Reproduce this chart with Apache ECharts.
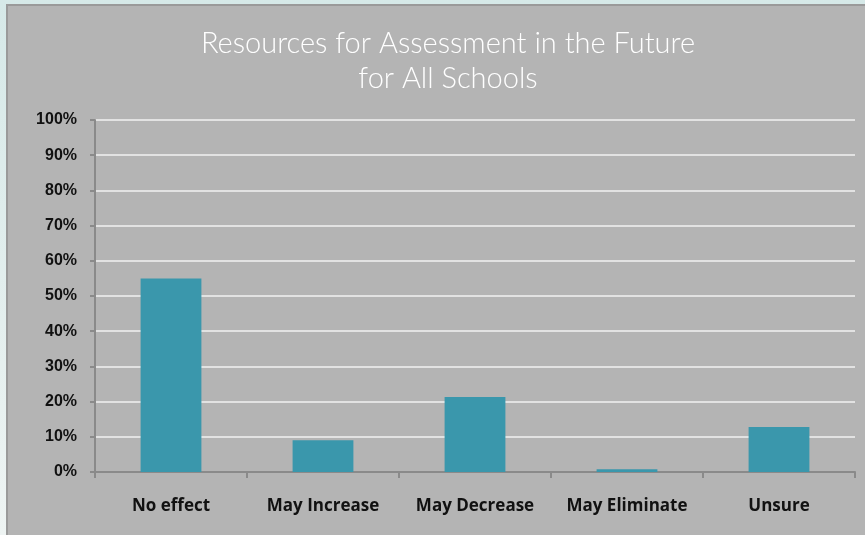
<!DOCTYPE html>
<html>
<head>
<meta charset="utf-8">
<script src="https://cdn.jsdelivr.net/npm/echarts@6/dist/echarts.min.js"></script>
<style>
html,body{margin:0;padding:0;width:865px;height:535px;overflow:hidden;}
body{background:linear-gradient(180deg,#d6e9e8 0%,#e4efee 60%,#eef4f3 100%);}
#panel{position:absolute;left:6px;top:4px;width:861px;height:533px;background:#b4b4b4;border-left:2px solid #9a9a9a;border-top:2px solid #9a9a9a;box-sizing:border-box;}
#chart{position:absolute;left:0;top:0;width:865px;height:535px;}
</style>
</head>
<body>
<div id="panel"></div>
<div id="chart"></div>
<script>
const categories = ['No effect', 'May Increase', 'May Decrease', 'May Eliminate', 'Unsure'];
const values = [55, 9, 21.3, 0.8, 12.8];
const titleLines = ['Resources for Assessment in the Future', 'for All Schools'];

const chart = echarts.init(document.getElementById('chart'), null, {renderer: 'canvas'});
chart.setOption({
  backgroundColor: 'transparent',
  animation: false,
  title: {
    text: titleLines.join('\n'),
    left: 443,
    textAlign: 'center',
    top: 21,
    textStyle: {color: '#ffffff', fontFamily: 'Lato', fontWeight: 300, fontSize: 29, lineHeight: 35}
  },
  grid: {left: 95, right: 10, top: 120, bottom: 63, containLabel: false},
  xAxis: {
    type: 'category',
    data: categories,
    axisLine: {lineStyle: {color: '#8a8a8a', width: 2}},
    axisTick: {show: true, interval: 0, length: 6, lineStyle: {color: '#8a8a8a', width: 2}},
    axisLabel: {interval: 0, hideOverlap: false, color: '#111', fontFamily: 'Open Sans', fontWeight: 'bold', fontSize: 17, margin: 26}
  },
  yAxis: {
    type: 'value',
    min: 0, max: 100, interval: 10,
    axisLine: {show: true, lineStyle: {color: '#8a8a8a', width: 2}},
    axisTick: {show: true, length: 5, lineStyle: {color: '#8a8a8a', width: 2}},
    axisLabel: {formatter: '{value}%', color: '#111', fontFamily: 'Liberation Sans', fontWeight: 'bold', fontSize: 16, margin: 18},
    splitLine: {lineStyle: {color: '#e2e2e2', width: 2}}
  },
  series: [{
    type: 'bar',
    data: values,
    barWidth: '40%',
    itemStyle: {color: '#3a97ac'}
  }]
});
</script>
</body>
</html>
